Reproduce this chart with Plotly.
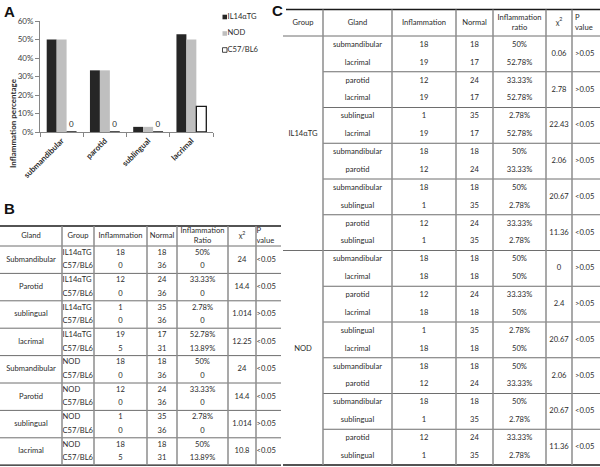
"""
Salivary/lacrimal gland inflammation: bar chart (A) plus two chi-square tables (B, C).
"""

import plotly.graph_objects as go

# ---------------------------------------------------------------------------
# Data
# ---------------------------------------------------------------------------

glands_a = ["submandibular", "parotid", "sublingual", "lacrimal"]
series_names = ["IL14αTG", "NOD", "C57/BL6"]
il14_pct = [50.0, 33.33, 2.78, 52.78]
nod_pct = [50.0, 33.33, 2.78, 50.0]
c57_pct = [0.0, 0.0, 0.0, 13.89]
y_ticks = [0, 10, 20, 30, 40, 50, 60]

# table B
b_header = ["Gland", "Group", "Inflammation", "Normal", "Inflammation<br>Ratio",
            "χ<sup>2</sup>", "P<br>value"]
b_glands = ["Submandibular", "Parotid", "sublingual", "lacrimal",
            "Submandibular", "Parotid", "sublingual", "lacrimal"]
b_groups = [["IL14αTG", "C57/BL6"]] * 4 + [["NOD", "C57/BL6"]] * 4
b_inflam = [[18, 0], [12, 0], [1, 0], [19, 5], [18, 0], [12, 0], [1, 0], [18, 5]]
b_normal = [[18, 36], [24, 36], [35, 36], [17, 31], [18, 36], [24, 36], [35, 36], [18, 31]]
b_ratio = [["50%", "0"], ["33.33%", "0"], ["2.78%", "0"], ["52.78%", "13.89%"],
           ["50%", "0"], ["33.33%", "0"], ["2.78%", "0"], ["50%", "13.89%"]]
b_chi2 = ["24", "14.4", "1.014", "12.25", "24", "14.4", "1.014", "10.8"]
b_p = ["<0.05", "<0.05", ">0.05", "<0.05", "<0.05", "<0.05", ">0.05", "<0.05"]

# table C
c_header = ["Group", "Gland", "Inflammation", "Normal", "Inflammation<br>ratio",
            "χ<sup>2</sup>", "P<br>value"]
c_strains = ["IL14αTG", "NOD"]
c_pair_glands = [["submandibular", "lacrimal"], ["parotid", "lacrimal"],
                 ["sublingual", "lacrimal"], ["submandibular", "parotid"],
                 ["submandibular", "sublingual"], ["parotid", "sublingual"]]
c_inflam = [
    [[18, 19], [12, 19], [1, 19], [18, 12], [18, 1], [12, 1]],
    [[18, 18], [12, 18], [1, 18], [18, 12], [18, 1], [12, 1]],
]
c_normal = [
    [[18, 17], [24, 17], [35, 17], [18, 24], [18, 35], [24, 35]],
    [[18, 18], [24, 18], [35, 18], [18, 24], [18, 35], [24, 35]],
]
c_ratio = [
    [["50%", "52.78%"], ["33.33%", "52.78%"], ["2.78%", "52.78%"],
     ["50%", "33.33%"], ["50%", "2.78%"], ["33.33%", "2.78%"]],
    [["50%", "50%"], ["33.33%", "50%"], ["2.78%", "50%"],
     ["50%", "33.33%"], ["50%", "2.78%"], ["33.33%", "2.78%"]],
]
c_chi2 = [["0.06", "2.78", "22.43", "2.06", "20.67", "11.36"],
          ["0", "2.4", "20.67", "2.06", "20.67", "11.36"]]
c_p = [[">0.05", ">0.05", "<0.05", ">0.05", "<0.05", "<0.05"],
       [">0.05", ">0.05", "<0.05", ">0.05", "<0.05", "<0.05"]]

# ---------------------------------------------------------------------------
# Layout constants (page is 600 x 467, the overlay axis works in pixels)
# ---------------------------------------------------------------------------

W, H = 600, 467
FONT = "Lato"
FSIZE = 7.6
TXT = "#2b2b2b"
VLINE = dict(color="#8c8c8c", width=1.5)
HLINE = dict(color="#6e6e6e", width=1)
EDGE = dict(color="#1a1a1a", width=1.3)

B_COLS = [0, 62, 94, 147, 177, 228, 256, 281]
B_TOP, B_HEAD, B_ROW = 226, 246, 27.4

C_COLS = [283, 323, 392, 456, 493, 546, 572, 600]
C_TOP, C_HEAD, C_PAIR = 9.5, 36, 35.75

BAR_COLORS = ["#262626", "#bfbfbf", "white"]
BAR_LINES = [dict(width=0), dict(width=0), dict(color="#1a1a1a", width=1.3)]

fig = go.Figure()

# ---- panel A: grouped bars -------------------------------------------------
for name, vals, color, line in zip(series_names, [il14_pct, nod_pct, c57_pct],
                                   BAR_COLORS, BAR_LINES):
    # only the C57/BL6 series has empty bars, which get a "0" on top
    zero_labels = ["0" if v == 0 else "" for v in vals] if 0 in vals else None
    fig.add_trace(go.Bar(
        x=glands_a, y=vals, name=name,
        marker=dict(color=color, line=line),
        text=zero_labels, textposition="outside", cliponaxis=False,
        textfont=dict(family=FONT, size=8, color=TXT),
        showlegend=False, hoverinfo="skip",
    ))

shapes = []
annos = []


def hline(x0, x1, y, style):
    shapes.append(dict(type="line", xref="x2", yref="y2", x0=x0, x1=x1,
                       y0=y, y1=y, line=style))


def vline(x, y0, y1, style):
    shapes.append(dict(type="line", xref="x2", yref="y2", x0=x, x1=x,
                       y0=y0, y1=y1, line=style))


def text_trace(xs, ys, texts, positions):
    fig.add_trace(go.Scatter(
        x=xs, y=ys, text=texts, mode="text", textposition=positions,
        textfont=dict(family=FONT, size=FSIZE, color=TXT), cliponaxis=False,
        xaxis="x2", yaxis="y2", showlegend=False, hoverinfo="skip",
    ))


def mid(cols, i):
    return (cols[i] + cols[i + 1]) / 2


# manual legend
for i, (name, color) in enumerate(zip(series_names, BAR_COLORS)):
    yc = 17 + i * 16.5
    shapes.append(dict(type="rect", xref="x2", yref="y2", x0=222.5, x1=227,
                       y0=yc - 2.3, y1=yc + 2.3, fillcolor=color,
                       line=dict(color="#1a1a1a", width=0.8 if i == 2 else 0)))
text_trace([227.5] * 3, [17 + i * 16.5 for i in range(3)], series_names,
           ["middle right"] * 3)

# ---- panel B table ---------------------------------------------------------
xs, ys, ts, ps = [], [], [], []
for j, h in enumerate(b_header):
    if j == 6:
        xs.append(B_COLS[6] + 0.5)
        ps.append("middle right")
    else:
        xs.append(mid(B_COLS, j))
        ps.append("middle center")
    ys.append((B_TOP + B_HEAD) / 2)
    ts.append(h)

for g in range(len(b_glands)):
    top = B_HEAD + g * B_ROW
    yc = top + B_ROW / 2
    xs += [mid(B_COLS, 0), mid(B_COLS, 5), B_COLS[6] + 0.5]
    ys += [yc, yc, yc]
    ts += [b_glands[g], b_chi2[g], b_p[g]]
    ps += ["middle center", "middle center", "middle right"]
    for r in range(2):
        yr = top + B_ROW * (0.25 + 0.5 * r)
        xs += [B_COLS[1] + 0.5, mid(B_COLS, 2), mid(B_COLS, 3), mid(B_COLS, 4)]
        ys += [yr] * 4
        ts += [b_groups[g][r], str(b_inflam[g][r]), str(b_normal[g][r]), b_ratio[g][r]]
        ps += ["middle right", "middle center", "middle center", "middle center"]
    if g < len(b_glands) - 1:
        hline(B_COLS[0], B_COLS[-1], top + B_ROW, HLINE)
text_trace(xs, ys, ts, ps)

b_bottom = B_HEAD + len(b_glands) * B_ROW
hline(B_COLS[0], B_COLS[-1], B_TOP, EDGE)
hline(B_COLS[0], B_COLS[-1], B_HEAD, HLINE)
hline(B_COLS[0], B_COLS[-1], b_bottom, EDGE)
for x in B_COLS[1:-1]:
    vline(x, B_TOP, b_bottom, VLINE)

# ---- panel C table ---------------------------------------------------------
xs, ys, ts, ps = [], [], [], []
for j, h in enumerate(c_header):
    if j == 6:
        xs.append(C_COLS[6] + 3)
        ps.append("middle right")
    else:
        xs.append(mid(C_COLS, j))
        ps.append("middle center")
    ys.append((C_TOP + C_HEAD) / 2)
    ts.append(h)

n_pairs = len(c_pair_glands)
for s, strain in enumerate(c_strains):
    block_top = C_HEAD + s * n_pairs * C_PAIR
    # strain label sits on the sixth row of its block
    xs.append(mid(C_COLS, 0))
    ys.append(block_top + C_PAIR * 2.75)
    ts.append(strain)
    ps.append("middle center")
    for k in range(n_pairs):
        top = block_top + k * C_PAIR
        yc = top + C_PAIR / 2
        xs += [mid(C_COLS, 5), C_COLS[6] + 3]
        ys += [yc, yc]
        ts += [c_chi2[s][k], c_p[s][k]]
        ps += ["middle center", "middle right"]
        for r in range(2):
            yr = top + C_PAIR * (0.25 + 0.5 * r)
            xs += [mid(C_COLS, 1), mid(C_COLS, 2), mid(C_COLS, 3), mid(C_COLS, 4)]
            ys += [yr] * 4
            ts += [c_pair_glands[k][r], str(c_inflam[s][k][r]),
                   str(c_normal[s][k][r]), c_ratio[s][k][r]]
            ps += ["middle center"] * 4
        if k < n_pairs - 1:
            hline(C_COLS[1], C_COLS[-1], top + C_PAIR, HLINE)
    if s < len(c_strains) - 1:
        hline(C_COLS[0], C_COLS[-1], block_top + n_pairs * C_PAIR, HLINE)
text_trace(xs, ys, ts, ps)

c_bottom = C_HEAD + len(c_strains) * n_pairs * C_PAIR
hline(C_COLS[0] + 3, C_COLS[-1], C_TOP, EDGE)
hline(C_COLS[0], C_COLS[-1], C_HEAD, HLINE)
hline(C_COLS[0], C_COLS[-1], c_bottom, EDGE)
for x in C_COLS[1:-1]:
    vline(x, C_TOP, c_bottom, VLINE)

# ---- panel letters and y title --------------------------------------------
for letter, px, py in [("A", 2, 1), ("B", 2, 198), ("C", 270, 0)]:
    annos.append(dict(text=f"<b>{letter}</b>", x=px / W, y=1 - py / H,
                      xref="paper", yref="paper", xanchor="left", yanchor="top",
                      showarrow=False,
                      font=dict(family="Liberation Sans", size=15, color="#111")))
annos.append(dict(text="<b>Inflammation percentage</b>", textangle=-90,
                  x=6 / W, y=1 - 76 / H, xref="paper", yref="paper",
                  showarrow=False, font=dict(family=FONT, size=8, color=TXT)))

fig.update_layout(
    width=W, height=H,
    margin=dict(l=0, r=0, t=0, b=0, pad=0, autoexpand=False),
    paper_bgcolor="white", plot_bgcolor="rgba(0,0,0,0)",
    showlegend=False,
    barmode="group", bargap=0.31, bargroupgap=0,
    xaxis=dict(domain=[40 / W, 213 / W], anchor="y", showgrid=False,
               automargin=False,
               showline=True, linecolor="#868686", linewidth=1,
               ticks="outside", tickson="boundaries", ticklen=4,
               tickcolor="#868686", tickangle=-45,
               tickfont=dict(family=FONT, size=8, color=TXT, weight="bold")),
    yaxis=dict(domain=[1 - 132 / H, 1 - 21 / H], anchor="x", range=[0, 60],
               automargin=False,
               tickmode="array", tickvals=y_ticks,
               ticktext=[f"{v}%" for v in y_ticks],
               showgrid=False, zeroline=False,
               showline=True, linecolor="#868686", linewidth=1,
               ticks="outside", ticklen=4, tickcolor="#868686",
               tickfont=dict(family=FONT, size=8, color="#404040")),
    xaxis2=dict(domain=[0, 1], anchor="y2", range=[0, W], visible=False,
                automargin=False, fixedrange=True),
    yaxis2=dict(domain=[0, 1], anchor="x2", range=[H, 0], visible=False,
                automargin=False, fixedrange=True),
    shapes=shapes,
    annotations=annos,
)

# the page's default body margin would push the 600x467 figure off the window
fig.write_html("out.html", config={"displayModeBar": False},
               post_script="document.body.style.margin = '0';")
